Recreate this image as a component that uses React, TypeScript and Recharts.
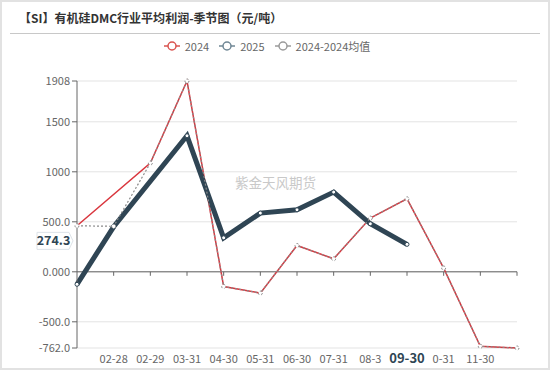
import React from 'react';
import { LineChart, Line, XAxis, YAxis, CartesianGrid, ReferenceLine } from 'recharts';

const categories = ['01-31', '02-28', '02-29', '03-31', '04-30', '05-31', '06-30', '07-31', '08-31', '09-30', '10-31', '11-30', '12-31'];
const tickLabels = ['', '02-28', '02-29', '03-31', '04-30', '05-31', '06-30', '07-31', '08-3', '09-30', '0-31', '11-30', ''];
const series2024 = [460, null, 1087, 1908, -147, -213, 263, 130, 537, 730, 37, -745, -762];
const series2025 = [-125, 450, null, 1360, 340, 587, 620, 797, 480, 274.3, null, null, null];
const seriesAvg = [460, 455, 1087, 1908, -147, -213, 263, 130, 537, 730, 37, -745, -762];
const yTicks = [1908, 1500, 1000, 500, 0, -500, -762];
const yTickLabels = ['1908', '1500', '1000', '500.0', '0.000', '-500.0', '-762.0'];
const highlightCategory = '09-30';
const pointerValue = 274.3;
const title = '【SI】有机硅DMC行业平均利润-季节图（元/吨）';
const legendItems = [
  { name: '2024', color: '#d9534f' },
  { name: '2025', color: '#6f8795' },
  { name: '2024-2024均值', color: '#9a9a9a' },
];
const watermark = '紫金天风期货';

const data = categories.map((c, i) => ({
  date: c,
  label: tickLabels[i],
  y2024: series2024[i],
  y2025: series2025[i],
  avg: seriesAvg[i],
}));

const FONT = '"Noto Sans CJK SC", "Noto Sans", sans-serif';

const XTick = (props: any) => {
  const { x, y, index } = props;
  const lbl = tickLabels[index];
  if (!lbl) return null;
  const hl = categories[index] === highlightCategory;
  return (
    <text
      x={x}
      y={y + 7}
      textAnchor="middle"
      fontFamily={FONT}
      fontSize={hl ? 13 : 11}
      fontWeight={hl ? 'bold' : 'normal'}
      fill={hl ? '#2f4554' : '#666'}
    >
      {lbl}
    </text>
  );
};

const PointerLabel = (props: any) => {
  const vb = props.viewBox || {};
  const x = vb.x;
  const y = vb.y;
  if (x == null || y == null) return null;
  const right = x - 5;
  const left = x - 40;
  const top = y - 12;
  const bottom = y + 5;
  const mid = (top + bottom) / 2;
  return (
    <g>
      <path
        d={`M${left},${top} L${right - 3},${top} L${right + 1},${mid} L${right - 3},${bottom} L${left},${bottom} Z`}
        fill="#fff"
        stroke="#dde3e8"
        strokeWidth={1}
      />
      <text x={(left + right - 2) / 2} y={mid + 4.5} textAnchor="middle" fontFamily={FONT} fontSize={12.5} fontWeight="bold" fill="#2f4554">
        {pointerValue}
      </text>
    </g>
  );
};

const LegendIcon = ({ color }: { color: string }) => (
  <svg width={16} height={10} style={{ verticalAlign: 'middle' }}>
    <line x1={0} y1={5} x2={16} y2={5} stroke={color} strokeWidth={1.5} />
    <circle cx={8} cy={5} r={4} fill="#fff" stroke={color} strokeWidth={1.5} />
  </svg>
);

export default function App() {
  return (
    <div
      style={{
        position: 'absolute',
        left: 0,
        top: 0,
        width: 550,
        height: 370,
        background: '#fff',
        border: '2px solid #e2e2e2',
        boxSizing: 'border-box',
        overflow: 'hidden',
        fontFamily: FONT,
      }}
    >
      <div
        style={{
          position: 'absolute',
          left: 17,
          top: 6,
          fontSize: 12,
          fontWeight: 'bold',
          color: '#333',
          whiteSpace: 'nowrap',
          lineHeight: '20px',
        }}
      >
        {title}
      </div>
      <div style={{ position: 'absolute', left: 8, top: 31, width: 530, height: 1, background: '#c8c8c8' }} />
      <div
        style={{
          position: 'absolute',
          left: 0,
          top: 34,
          width: 530,
          textAlign: 'center',
          fontSize: 11,
          color: '#666',
          whiteSpace: 'nowrap',
          lineHeight: '16px',
        }}
      >
        {legendItems.map((it, i) => (
          <span key={it.name} style={{ marginLeft: i === 0 ? 0 : 10 }}>
            <LegendIcon color={it.color} />
            <span style={{ marginLeft: 5, verticalAlign: 'middle' }}>{it.name}</span>
          </span>
        ))}
      </div>
      <div
        style={{
          position: 'absolute',
          left: 233,
          top: 170,
          fontSize: 13.5,
          color: '#c9c9c9',
          whiteSpace: 'nowrap',
          pointerEvents: 'none',
        }}
      >
        {watermark}
      </div>
      <div style={{ position: 'absolute', left: -2, top: -2 }}>
        <LineChart width={550} height={370} data={data} margin={{ top: 81, right: 33, bottom: 0, left: 0 }}>
          <CartesianGrid vertical={false} stroke="#e3e3e3" />
          <XAxis
            dataKey="date"
            axisLine={false}
            tickLine={false}
            interval={0}
            height={22}
            tick={<XTick />}
          />
          <YAxis
            width={77}
            domain={[-762, 1908]}
            ticks={yTicks}
            interval={0}
            axisLine={{ stroke: '#666' }}
            tickLine={{ stroke: '#666' }}
            tickSize={5}
            tick={{ fill: '#666', fontSize: 11, fontFamily: FONT }}
            tickFormatter={(v: number) => yTickLabels[yTicks.indexOf(v)] ?? String(v)}
          />
          <ReferenceLine y={0} stroke="#666" strokeWidth={1} />
          {categories.slice(1).map((c) => (
            <ReferenceLine
              key={c}
              segment={[{ x: c, y: 0 }, { x: c, y: -40 }]}
              stroke="#666"
              strokeWidth={1}
            />
          ))}
          <ReferenceLine y={pointerValue} stroke="none" label={<PointerLabel />} />
          <Line
            type="linear"
            dataKey="y2024"
            stroke="#d9363e"
            strokeWidth={1.5}
            dot={false}
            connectNulls
            isAnimationActive={false}
          />
          <Line
            type="linear"
            dataKey="y2025"
            stroke="#2f4554"
            strokeWidth={5}
            dot={{ r: 2, stroke: '#2f4554', fill: '#fff', strokeWidth: 1 }}
            connectNulls
            isAnimationActive={false}
          />
          <Line
            type="linear"
            dataKey="avg"
            stroke="#8a8a8a"
            strokeWidth={1.2}
            strokeDasharray="2 2"
            dot={{ r: 2, stroke: '#8a8a8a', fill: '#fff', strokeWidth: 1 }}
            connectNulls
            isAnimationActive={false}
          />
        </LineChart>
      </div>
    </div>
  );
}
